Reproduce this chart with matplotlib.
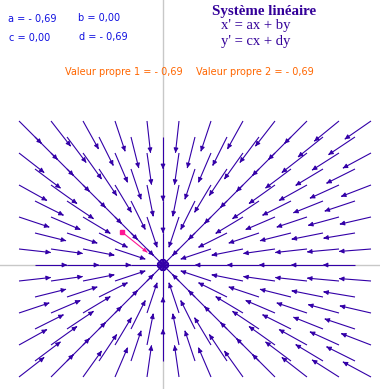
import numpy as np
import matplotlib
matplotlib.use("Agg")
import matplotlib.pyplot as plt

# coefficients du systeme lineaire
a, b, c, d = -0.69, 0.00, 0.00, -0.69
valeurs_propres = [-0.69, -0.69]

# points de depart des trajectoires (unites du repere)
grilleA_x = [-4.5, -3.5, -2.5, -1.5, -0.5, 0.5, 1.5, 2.5, 3.5, 4.5, 5.5, 6.5]
grilleA_y = [-3.5, -2.5, -1.5, -0.5, 0.5, 1.5, 2.5, 3.5, 4.5]
grilleB_x = [-4, -3, -2, -1, 0, 1, 2, 3, 4, 5, 6]
grilleB_y = [-3, -2, -1, 0, 1, 2, 3, 4]
# trajectoire choisie (en rose)
depart_rose = (-1.28, 1.03)

longueur = 1.0   # longueur d'une trajectoire
violet = "#3300a8"
rose = "#ff1493"

W, H = 380, 389
ox, oy, unite = 163, 265, 32.0

fig = plt.figure(figsize=(W / 100, H / 100), dpi=100)
ax = fig.add_axes([0, 0, 1, 1])
ax.set_xlim(-ox / unite, (W - ox) / unite)
ax.set_ylim(-(H - oy) / unite, oy / unite)
ax.axis("off")

ax.axvline(0, color="#c8c8c8", lw=1, zorder=0)
ax.axhline(0, color="#c8c8c8", lw=1, zorder=0)

A = np.array([[a, b], [c, d]])


def trajectoire(x0, y0, L):
    p = np.array([x0, y0], dtype=float)
    pts = [p.copy()]
    s = 0.0
    h = 0.02
    while s < L:
        v = A @ p
        n = np.hypot(v[0], v[1])
        if n < 1e-9 or np.hypot(p[0], p[1]) < h:
            break
        p = p + h * v / n
        s += h
        pts.append(p.copy())
    return np.array(pts)


def dessine(x0, y0, col, lw=0.8):
    pts = trajectoire(x0, y0, longueur)
    if len(pts) < 3:
        return
    ax.plot(pts[:, 0], pts[:, 1], color=col, lw=lw, solid_capstyle="butt")
    ax.annotate("", xy=pts[-1], xytext=pts[-3],
                arrowprops=dict(arrowstyle="-|>", color=col, lw=0.8,
                                mutation_scale=6.5, shrinkA=0, shrinkB=0))


for gx, gy in [(grilleA_x, grilleA_y), (grilleB_x, grilleB_y)]:
    for x0 in gx:
        for y0 in gy:
            if x0 == 0 and y0 == 0:
                continue
            dessine(x0, y0, violet)

pr = trajectoire(depart_rose[0], depart_rose[1], longueur)
ax.plot(pr[:, 0], pr[:, 1], color=rose, lw=0.8)
ax.plot(pr[0, 0], pr[0, 1], "s", color=rose, ms=2.5)
ax.annotate("", xy=pr[-1], xytext=pr[-3],
            arrowprops=dict(arrowstyle="-|>", color=rose, lw=0.8,
                            mutation_scale=5, shrinkA=0, shrinkB=0))


def txt(x, y, s, **kw):
    fig.text(x / W, 1 - y / H, s, va="center", **kw)


bleu = "#1010e0"
txt(8, 19, "a = - 0,69", color=bleu, fontsize=7)
txt(78, 18, "b = 0,00", color=bleu, fontsize=7)
txt(9, 38, "c = 0,00", color=bleu, fontsize=7)
txt(79, 37, "d = - 0,69", color=bleu, fontsize=7)

txt(264, 11, "Système linéaire", color="#330099", fontsize=10.8,
    family="Liberation Serif", weight="bold", ha="center")
txt(221, 26, "x' = ax + by", color="#330099", fontsize=10.5, family="Liberation Serif")
txt(221, 41, "y' = cx + dy", color="#330099", fontsize=10.5, family="Liberation Serif")

orange = "#ff6600"
txt(65, 72, "Valeur propre 1 = - 0,69", color=orange, fontsize=7)
txt(196, 72, "Valeur propre 2 = - 0,69", color=orange, fontsize=7)

fig.savefig("out.png", dpi=100)
